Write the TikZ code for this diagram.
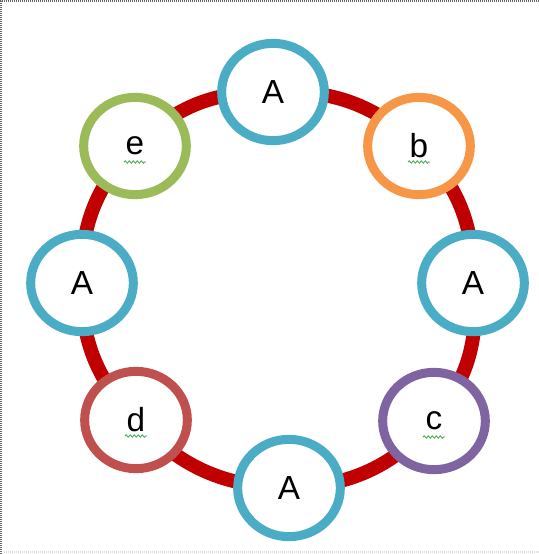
\documentclass[tikz,border=0pt]{standalone}
\usepackage{fontspec}
\setmainfont{Liberation Sans}
\usetikzlibrary{shapes.geometric, calc, decorations.pathmorphing, backgrounds}

\definecolor{ringred}{HTML}{C00000}
\definecolor{aqua}{HTML}{4BACC6}
\definecolor{orng}{HTML}{F79646}
\definecolor{olive}{HTML}{9BBB59}
\definecolor{plum}{HTML}{8064A2}
\definecolor{brick}{HTML}{C0504D}
\definecolor{spell}{HTML}{3FA64A}

\tikzset{
  elem/.style={ellipse, draw=#1, line width=6.75pt, fill=white,
    minimum width=77pt, minimum height=73pt, inner sep=0,
    font=\fontsize{25}{30}\selectfont},
  ring/.style={draw=ringred, line width=10.5pt},
  squiggle/.style={draw=spell, line width=0.6pt,
    decorate, decoration={snake, amplitude=0.9pt, segment length=3pt}}
}

\begin{document}
\begin{tikzpicture}[x=0.75pt, y=-0.75pt]
  \useasboundingbox (0,0) rectangle (539,554);
  \draw [gray!80!black, line width=1.5pt, dash pattern=on 0.75pt off 0.75pt]
    (1,554) -- (1,1) -- (539,1);
  \draw [gray!25, line width=1.5pt, dash pattern=on 0.75pt off 0.75pt]
    (4,552) -- (539,552);

  \node [elem=aqua] (top) at (273,92) {A};
  \node [elem=orng] (b) at (419,146) {b};
  \node [elem=aqua] (right) at (473,283) {A};
  \node [elem=plum] (c) at (434,421) {c};
  \node [elem=aqua] (bottom) at (289,488) {A};
  \node [elem=brick] (d) at (136,420) {d};
  \node [elem=aqua] (left) at (82,283) {A};
  \node [elem=olive] (e) at (135,146) {e};

  \begin{scope}[on background layer]
    \draw [ring] (top.center) to[bend left=22.5] (b.center)
      to[bend left=22.5] (right.center) to[bend left=22.5] (c.center)
      to[bend left=22.5] (bottom.center) to[bend left=22.5] (d.center)
      to[bend left=22.5] (left.center) to[bend left=22.5] (e.center)
      to[bend left=22.5] (top.center);
  \end{scope}

  % spelling marks under the small letters
  \foreach \n in {b,c,d,e}
    \draw [squiggle] ($(\n.center)+(-11,16)$) -- ($(\n.center)+(11,16)$);
\end{tikzpicture}
\end{document}
